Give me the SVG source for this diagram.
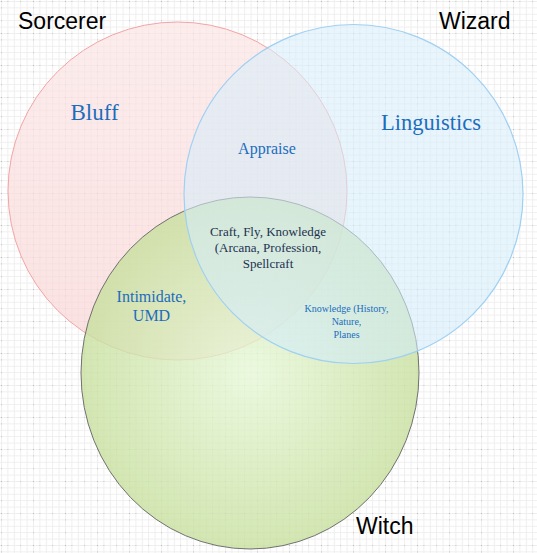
<svg xmlns="http://www.w3.org/2000/svg" width="537" height="553" viewBox="0 0 537 553">
  <defs>
    <pattern id="grid" width="6.4" height="6.4" patternUnits="userSpaceOnUse" x="1" y="1">
      <path d="M0 0.5 H6.4 M0.5 0 V6.4" fill="none" stroke="#eeeeee" stroke-width="1"/>
    </pattern>
    <pattern id="dots" width="32" height="32" patternUnits="userSpaceOnUse" x="1" y="1">
      <rect x="0" y="0" width="1" height="1" fill="#bdbdbd"/>
      <rect x="6.4" y="0" width="1" height="1" fill="#c8c8c8"/>
      <rect x="0" y="6.4" width="1" height="1" fill="#c8c8c8"/>
      <rect x="19.2" y="0" width="1" height="1" fill="#c8c8c8"/>
      <rect x="0" y="19.2" width="1" height="1" fill="#c8c8c8"/>
    </pattern>
    <linearGradient id="gPink" x1="0" y1="0" x2="0" y2="1">
      <stop offset="0" stop-color="#fbe4e4"/>
      <stop offset="1" stop-color="#f9d3d3"/>
    </linearGradient>
    <linearGradient id="gBlue" x1="0" y1="0" x2="0" y2="1">
      <stop offset="0" stop-color="#d9eefa"/>
      <stop offset="1" stop-color="#d2ecfa"/>
    </linearGradient>
    <radialGradient id="gGreen" cx="0.5" cy="0.5" r="0.5">
      <stop offset="0" stop-color="#e6f7d6"/>
      <stop offset="1" stop-color="#c6df9c"/>
    </radialGradient>
  </defs>
  <style>
    .lbl { font-family: "Liberation Sans", Arial, sans-serif; font-size: 23px; fill: #000; }
    .in { font-family: "Liberation Serif", "Times New Roman", serif; fill: #1c6dbd; text-anchor: middle; }
    .core { font-family: "Liberation Serif", "Times New Roman", serif; fill: #1d3150; text-anchor: middle; font-size: 13px; }
  </style>
  <rect width="537" height="553" fill="#ffffff"/>
  <rect width="537" height="553" fill="url(#grid)"/>
  <rect width="537" height="553" fill="url(#dots)"/>

  <g id="sorcerer">
    <ellipse cx="177.5" cy="191" rx="169.5" ry="169" fill="url(#gPink)" fill-opacity="0.68" stroke="#f4a4a4" stroke-width="1"/>
  </g>
  <g id="witch">
    <ellipse cx="250" cy="373" rx="169" ry="176" fill="url(#gGreen)" fill-opacity="0.78" stroke="#707070" stroke-width="1"/>
  </g>
  <g id="wizard">
    <ellipse cx="353.5" cy="194" rx="169.5" ry="169.5" fill="url(#gBlue)" fill-opacity="0.58" stroke="#9fd0f2" stroke-width="1.2"/>
  </g>
  <g id="connectors"></g>

  <g id="labels">
    <text class="lbl" x="18" y="29">Sorcerer</text>
    <text class="lbl" x="439" y="29">Wizard</text>
    <text class="lbl" x="356" y="534">Witch</text>
  </g>
  <g id="region-bluff"><text class="in" x="94.5" y="120" font-size="23">Bluff</text></g>
  <g id="region-linguistics"><text class="in" x="431" y="130" font-size="22.5">Linguistics</text></g>
  <g id="region-appraise"><text class="in" x="267" y="154" font-size="16">Appraise</text></g>
  <g id="region-intimidate">
    <text class="in" x="151.5" y="302" font-size="16">Intimidate,</text>
    <text class="in" x="151.5" y="321" font-size="16">UMD</text>
  </g>
  <g id="region-knowledge">
    <text class="in" x="346.5" y="312" font-size="10">Knowledge (History,</text>
    <text class="in" x="346.5" y="325" font-size="10">Nature,</text>
    <text class="in" x="346.5" y="338" font-size="10">Planes</text>
  </g>
  <g id="region-core">
    <text class="core" x="268" y="236">Craft, Fly, Knowledge</text>
    <text class="core" x="268" y="252">(Arcana, Profession,</text>
    <text class="core" x="268" y="268">Spellcraft</text>
  </g>
</svg>
